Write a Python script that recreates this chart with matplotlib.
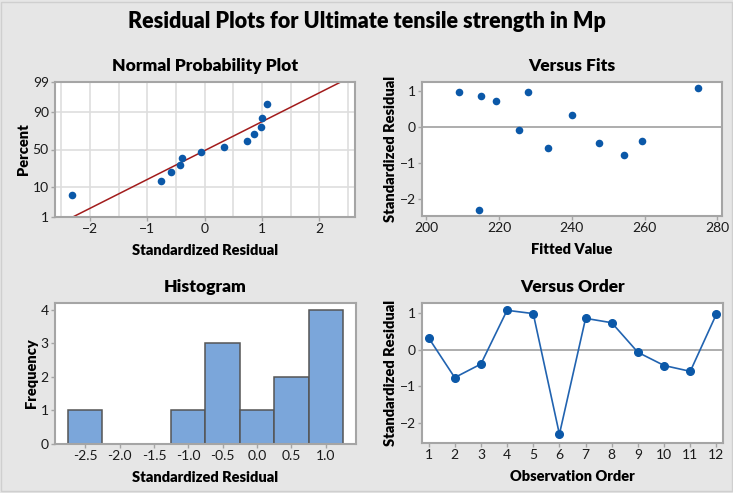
import matplotlib
matplotlib.use("Agg")
import matplotlib.pyplot as plt
from matplotlib.patches import Rectangle
from statistics import NormalDist
import numpy as np

# standardized residuals in observation order, and the matching fitted values
order = list(range(1, 13))
std_resid = [0.33, -0.76, -0.39, 1.08, 0.99, -2.31, 0.86, 0.74, -0.07, -0.43, -0.59, 0.98]
fitted = [240.0, 254.4, 259.3, 274.7, 208.9, 214.6, 214.9, 219.1, 225.4, 247.4, 233.5, 227.9]

pct_ticks = [1, 10, 50, 90, 99]
hist_edges = [-2.75, -2.25, -1.75, -1.25, -0.75, -0.25, 0.25, 0.75, 1.25]

BG = "#e6e6e6"
SPINE = "#a5a5a5"
GRID = "#dedede"
DOT = "#0b58a8"
LINE_BLUE = "#2163b0"
FIT_RED = "#a21c1c"
BAR = "#7ba6da"

plt.rcParams["font.family"] = ["Lato", "DejaVu Sans"]

fig = plt.figure(figsize=(7.33, 4.93), dpi=100, facecolor=BG)
fig.patches.append(Rectangle((0.002, 0.004), 0.996, 0.992, transform=fig.transFigure,
                             fill=False, edgecolor="#cfcfcf", linewidth=1.0))

W, H = 733.0, 493.0
TITLE_FS = 12.5
LABEL_FS = 10.5
HEAVY = "heavy"


def make_ax(left, top, right, bottom):
    ax = fig.add_axes([left / W, 1 - bottom / H, (right - left) / W, (bottom - top) / H])
    ax.set_facecolor("white")
    for s in ax.spines.values():
        s.set_color(SPINE)
        s.set_linewidth(1.5)
    ax.tick_params(colors=SPINE, labelcolor="#1a1a1a", labelsize=10, length=3, width=1, pad=1.5)
    return ax


fig.text(0.5, 1 - 22 / H, "Residual Plots for Ultimate tensile strength in Mp",
         ha="center", va="center", fontsize=15.5, fontweight=HEAVY)

# --- normal probability plot ---
nd = NormalDist()
ax1 = make_ax(55, 82, 355, 217)
n = len(std_resid)
sorted_r = np.sort(std_resid)
ranks = [(i + 1 - 0.3) / (n + 0.4) for i in range(n)]
z = [nd.inv_cdf(p) for p in ranks]
mu, sd = np.mean(std_resid), np.std(std_resid, ddof=1)
zlo, zhi = nd.inv_cdf(0.01), nd.inv_cdf(0.99)
ax1.plot([mu + zlo * sd, mu + zhi * sd], [zlo, zhi], color=FIT_RED, lw=1.1, zorder=2)
ax1.scatter(sorted_r, z, s=30, color=DOT, zorder=3, linewidths=0)
ax1.set_xlim(-2.61, 2.62)
ax1.set_ylim(zlo, zhi)
ax1.set_yticks([nd.inv_cdf(p / 100) for p in pct_ticks])
ax1.set_yticklabels([str(p) for p in pct_ticks])
ax1.set_xticks([-2, -1, 0, 1, 2])
for gx in np.arange(-2.5, 2.51, 0.5):
    ax1.axvline(gx, color=GRID, lw=1.2, zorder=1)
for p in [10, 50, 90]:
    ax1.axhline(nd.inv_cdf(p / 100), color=GRID, lw=1.2, zorder=1)
ax1.set_title("Normal Probability Plot", fontsize=TITLE_FS, fontweight=HEAVY, pad=8)
ax1.set_xlabel("Standardized Residual", fontsize=LABEL_FS, fontweight=HEAVY, labelpad=6)
ax1.set_ylabel("Percent", fontsize=LABEL_FS, fontweight=HEAVY, labelpad=2)

# --- versus fits ---
ax2 = make_ax(422, 82, 722, 216)
ax2.axhline(0, color="#a0a0a0", lw=1.2, zorder=1)
ax2.scatter(fitted, std_resid, s=30, color=DOT, zorder=3, linewidths=0)
ax2.set_xlim(198.8, 281.3)
ax2.set_ylim(-2.47, 1.26)
ax2.set_xticks([200, 220, 240, 260, 280])
ax2.set_yticks([-2, -1, 0, 1])
ax2.set_title("Versus Fits", fontsize=TITLE_FS, fontweight=HEAVY, pad=8)
ax2.set_xlabel("Fitted Value", fontsize=LABEL_FS, fontweight=HEAVY, labelpad=6)
ax2.set_ylabel("Standardized Residual", fontsize=LABEL_FS, fontweight=HEAVY, labelpad=2)

# --- histogram ---
ax3 = make_ax(55, 303, 356, 444)
counts, _ = np.histogram(std_resid, bins=hist_edges)
centers = [(a + b) / 2 for a, b in zip(hist_edges[:-1], hist_edges[1:])]
ax3.bar(centers, counts, width=0.5, color=BAR, edgecolor="#555555", linewidth=1.1)
ax3.set_xlim(-2.94, 1.44)
ax3.set_ylim(0, 4.2)
ax3.set_xticks(centers)
ax3.set_xticklabels([f"{c:.1f}" for c in centers])
ax3.set_yticks([0, 1, 2, 3, 4])
ax3.set_title("Histogram", fontsize=TITLE_FS, fontweight=HEAVY, pad=8)
ax3.set_xlabel("Standardized Residual", fontsize=LABEL_FS, fontweight=HEAVY, labelpad=6)
ax3.set_ylabel("Frequency", fontsize=LABEL_FS, fontweight=HEAVY, labelpad=2)

# --- versus order ---
ax4 = make_ax(422, 303, 723, 443)
ax4.axhline(0, color="#a0a0a0", lw=1.2, zorder=1)
ax4.plot(order, std_resid, color=LINE_BLUE, lw=1.2, marker="o", ms=5.5,
         mfc=DOT, mec=DOT, zorder=3)
ax4.set_xlim(0.75, 12.25)
ax4.set_ylim(-2.55, 1.28)
ax4.set_xticks(order)
ax4.set_yticks([-2, -1, 0, 1])
ax4.set_title("Versus Order", fontsize=TITLE_FS, fontweight=HEAVY, pad=8)
ax4.set_xlabel("Observation Order", fontsize=LABEL_FS, fontweight=HEAVY, labelpad=6)
ax4.set_ylabel("Standardized Residual", fontsize=LABEL_FS, fontweight=HEAVY, labelpad=2)

fig.savefig("out.png", dpi=100, facecolor=BG)
